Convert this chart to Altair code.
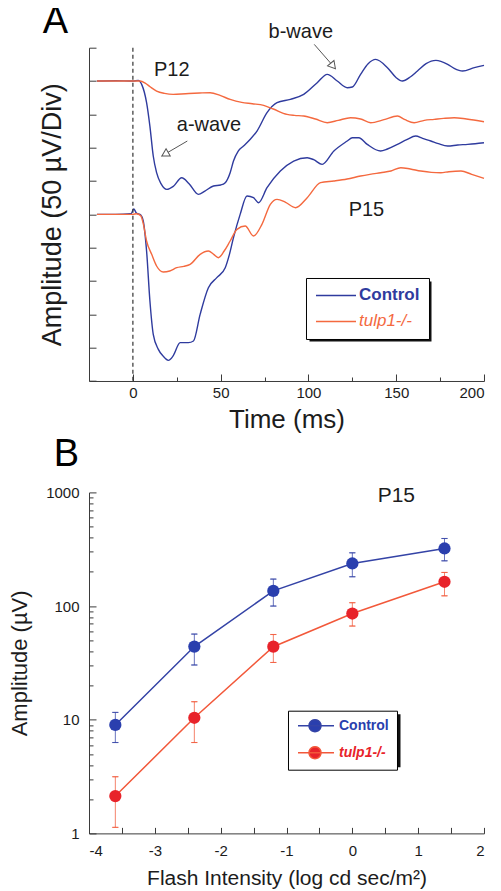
import math
import altair as alt
import pandas as pd

FONT = "Liberation Sans, Arial, Helvetica, sans-serif"
TEXT = "#1c1c1c"
AX = "#3a3a3a"

GROUPS = ["Control", "tulp1-/-"]

# ---------------- Panel A : ERG traces (µV, baselines offset) ----------------
p12_control_t = [-20.5, -10, 0, 3, 5, 7.8, 9.7, 11.6, 13.5, 16, 19.3, 23, 27.8, 32, 37.3, 41, 45.9, 50, 52.6,
                 55.4, 57.3, 60, 63, 67, 70.7, 76.4, 82.1, 89.7, 97.3, 105, 110.7, 116.4, 122.1, 125, 129.7,
                 134, 138.3, 145, 150, 153.5, 158, 162.1, 167, 172.6, 179.3, 183, 187.8, 194.5, 200]
p12_control_v = [450, 450.5, 450, 451, 445, 417.5, 382, 337.5, 312.5, 296, 287.5, 292, 305, 296, 280, 285, 292.5,
                 294, 297.5, 312.5, 330, 345, 352.5, 363, 375, 402.5, 417.5, 422.5, 430, 447.5, 460, 450, 440, 441,
                 460, 476, 482.5, 470, 455, 450, 456, 465, 476, 481, 475, 469, 465, 470, 473.5]

p12_tulp_t = [-20.5, 0, 4, 7, 10, 13.5, 18, 23, 30, 38, 44, 50, 55.4, 62, 68, 74.5, 80, 87.8, 92, 97.3, 104,
              110.7, 117, 124, 129.7, 135.4, 143, 150.7, 155, 160.2, 166, 171.6, 177, 183, 190, 200]
p12_tulp_v = [450, 450, 450, 447, 441, 435, 431.5, 430, 431, 432, 432.5, 428, 422.5, 418, 416, 413.5, 408, 400,
              398.5, 397.5, 393, 387.5, 391, 395, 393, 387.5, 392, 397.5, 392, 387.5, 391, 392.5, 394, 395, 393, 389]

p15_control_t = [-20.5, -10, -1, 0.5, 2, 4.5, 5.9, 7.8, 9.7, 11.6, 14.5, 17, 20.2, 23, 26.9, 31.6, 34.5, 38.3,
                 43, 47.8, 52.6, 55, 57.3, 61.1, 65, 68.7, 71.6, 76.4, 84, 91.6, 99.3, 103, 107.8, 114.5, 122.1,
                 125, 128.7, 133.5, 141.1, 145, 150.7, 156, 161.1, 165, 169.7, 174, 179.3, 185, 190.7, 195, 200]
p15_control_v = [250, 250, 251, 258, 252, 249, 240, 195, 120, 70, 47.5, 38, 31, 38, 57.5, 57.5, 60, 100, 140, 155,
                 170, 190, 215, 250, 277.5, 275, 267.5, 290, 315, 330, 335, 332, 325, 345, 360, 365, 365, 355, 345,
                 348, 355, 362, 367.5, 364, 360, 356, 352.5, 354, 355, 356, 357.5]

p15_tulp_t = [-20.5, 0, 2, 4.5, 6, 7.8, 10.7, 13.5, 17.3, 21, 25, 29, 32.6, 38.3, 43, 46, 48.7, 52, 55.4, 59.3,
              64, 68.7, 73.5, 78.3, 82.1, 87, 92.6, 99.3, 106.9, 114.5, 122, 129.7, 135, 141.1, 147, 152.6, 158,
              164, 170, 175.4, 180, 186.9, 193, 200]
p15_tulp_v = [250, 250, 251, 248, 235, 210, 190, 172.5, 163.5, 165, 170, 172, 175, 190, 195, 190, 185, 195, 210,
              227.5, 232.5, 217.5, 235, 265, 272.5, 268, 260, 275, 297.5, 300, 303, 307.5, 310, 312.5, 315, 320,
              318, 315, 313, 312.5, 314, 315, 310, 304]

flash_onset = [0]

a_labels = ["P12", "P15", "a-wave", "b-wave"]
a_label_t = [12, 122.9, 25, 77.3]
a_label_v = [457.5, 247.5, 375, 515]

arrow_a_t = [31.0, 16.4]
arrow_a_v = [360, 337.5]
arrow_b_t = [103.3, 115.4]
arrow_b_v = [505, 468.5]
head_a = (18.9, 341)
head_b = (113.6, 474)

# ---------------- Panel B : intensity-response ----------------
intensity = [-3.6, -2.4, -1.2, 0, 1.4]
control_amp = [9.0, 44, 136, 237, 321]
control_lo = [6.3, 30.3, 100, 181, 250]
control_hi = [11.6, 56.7, 172.7, 294, 393]
tulp_amp = [2.13, 10.4, 43.9, 86, 163.6]
tulp_lo = [1.13, 6.3, 31.9, 66.7, 123]
tulp_hi = [3.15, 14.4, 56.2, 107, 197.6]

# ---------------- tables ----------------
rows = []
for age, grp, ts, vs in [("P12", "Control", p12_control_t, p12_control_v),
                         ("P12", "tulp1-/-", p12_tulp_t, p12_tulp_v),
                         ("P15", "Control", p15_control_t, p15_control_v),
                         ("P15", "tulp1-/-", p15_tulp_t, p15_tulp_v)]:
    for t, v in zip(ts, vs):
        rows.append({"t": t, "v": v, "group": grp, "series": age + grp})
df_a = pd.DataFrame(rows)

grp_b = ["Control"] * 5 + ["tulp1-/-"] * 5
df_b = pd.DataFrame({
    "x": intensity * 2,
    "amp": control_amp + tulp_amp,
    "lo": control_lo + tulp_lo,
    "hi": control_hi + tulp_hi,
    "genotype": grp_b,
    "line_group": grp_b,
})
df_caps = pd.concat([
    df_b[["x", "line_group"]].assign(e=df_b["lo"]),
    df_b[["x", "line_group"]].assign(e=df_b["hi"]),
])

W = 395
HA = 333.3
HB = 341

COND = "datum.value === 'Control'"


def by_group(a, b):
    return alt.ExprRef(expr=f"{COND} ? '{a}' : '{b}'")


# ---------------- Panel A chart ----------------
xsA = alt.Scale(domain=[-25, 200], nice=False, zero=False)
ysA = alt.Scale(domain=[0, 500], nice=False, zero=False)

blueA, orangeA = "#2f3b9e", "#f4693f"

LEG_A_X, LEG_A_Y, LEG_A_W, LEG_A_H = 217, 230.3, 122, 60
legend_a = alt.Legend(title=None, orient="none", legendX=LEG_A_X, legendY=LEG_A_Y, direction="vertical",
                      padding=9, rowPadding=8, strokeColor="#000", fillColor="white",
                      symbolType="M-1.875,0H8.125", symbolSize=64, symbolStrokeWidth=1.5,
                      labelFontSize=17, labelOffset=27, labelFont=FONT,
                      labelColor=by_group(blueA, orangeA),
                      labelFontStyle=by_group("normal", "italic"),
                      labelFontWeight=by_group("bold", "normal"))

x_axis_a = alt.Axis(orient="bottom", values=[0, 50, 100, 150, 200], ticks=False, tickSize=0,
                    domainColor=AX, domainWidth=1, labelFontSize=15, labelPadding=5, labelColor=TEXT,
                    grid=False, title="Time (ms)", titleFontSize=26, titleFontWeight="normal",
                    titleColor=TEXT, titleBaseline="alphabetic", titleY=46.5)
y_axis_a = alt.Axis(orient="left", ticks=False, tickSize=0, labels=False, domainColor=AX, domainWidth=1,
                    grid=False, title="Amplitude (50 µV/Div)", titleFontSize=27, titleFontWeight="normal",
                    titleColor=TEXT, titleBaseline="alphabetic", titleX=-28.7, titleY=HA / 2)
x_ticks_a = alt.Axis(orient="top", offset=-HA, values=list(range(0, 201, 25)), labels=False, domain=False,
                     tickColor=AX, tickWidth=1, grid=False, title=None,
                     tickSize={"condition": {"test": "datum.value % 50 === 0", "value": 7}, "value": 4})
y_ticks_a = alt.Axis(orient="right", offset=-W, values=list(range(0, 501, 50)), labels=False, domain=False,
                     tickColor=AX, tickWidth=1, tickSize=7, grid=False, title=None)

traces = alt.Chart(df_a).mark_line(strokeWidth=1.4, interpolate="monotone").encode(
    x=alt.X("t:Q", scale=xsA, axis=x_axis_a),
    y=alt.Y("v:Q", scale=ysA, axis=y_axis_a),
    color=alt.Color("group:N", scale=alt.Scale(domain=GROUPS, range=[blueA, orangeA]), legend=legend_a),
    detail="series:N",
)

onset = alt.Chart(pd.DataFrame({"t": flash_onset})).mark_rule(
    strokeDash=[4, 3], color="#333", strokeWidth=1.2).encode(
    x=alt.X("t:Q", scale=xsA, axis=None))

ann_a = alt.Chart(pd.DataFrame({"t": a_label_t, "v": a_label_v, "lab": a_labels})).mark_text(
    align="left", baseline="alphabetic", fontSize=20, color=TEXT).encode(
    x=alt.X("t:Q", scale=xsA, axis=x_ticks_a),
    y=alt.Y("v:Q", scale=ysA, axis=y_ticks_a),
    text="lab:N")

panel_a_lab = alt.Chart(pd.DataFrame({"t": [-51.4], "v": [522.4], "lab": ["A"]})).mark_text(
    align="left", baseline="alphabetic", fontSize=38, color="#000").encode(
    x=alt.X("t:Q", scale=xsA, axis=None), y=alt.Y("v:Q", scale=ysA, axis=None), text="lab:N")

arrows_df = pd.DataFrame({"t": arrow_a_t + arrow_b_t, "v": arrow_a_v + arrow_b_v,
                          "arrow": ["a", "a", "b", "b"]})
arrow_lines = alt.Chart(arrows_df).mark_line(color="#555", strokeWidth=1).encode(
    x=alt.X("t:Q", scale=xsA, axis=None), y=alt.Y("v:Q", scale=ysA, axis=None), detail="arrow:N")
head_a_m = alt.Chart(pd.DataFrame({"t": [head_a[0]], "v": [head_a[1]]})).mark_point(
    shape="triangle", filled=True, fill="white", stroke="#555", strokeWidth=1, size=70, opacity=1,
    angle=240).encode(x=alt.X("t:Q", scale=xsA, axis=None), y=alt.Y("v:Q", scale=ysA, axis=None))
head_b_m = alt.Chart(pd.DataFrame({"t": [head_b[0]], "v": [head_b[1]]})).mark_point(
    shape="triangle", filled=True, fill="white", stroke="#555", strokeWidth=1, size=70, opacity=1,
    angle=140).encode(x=alt.X("t:Q", scale=xsA, axis=None), y=alt.Y("v:Q", scale=ysA, axis=None))

SH = 3.5
shadow_a = alt.Chart(pd.DataFrame({"k": [0]})).mark_rect(color="#111").encode(
    x=alt.value(LEG_A_X + SH), x2=alt.value(LEG_A_X + LEG_A_W + SH),
    y=alt.value(LEG_A_Y + SH), y2=alt.value(LEG_A_Y + LEG_A_H + SH))

panel_a = alt.layer(shadow_a, traces, onset, arrow_lines, head_a_m, head_b_m, ann_a, panel_a_lab).resolve_axis(
    x="independent", y="independent").properties(width=W, height=HA)

# ---------------- Panel B chart ----------------
xsB = alt.Scale(domain=[-4, 2], nice=False, zero=False)
ysB = alt.Scale(type="log", domain=[1, 1000], nice=False)

blueB_pt, redB_pt = "#2a3fae", "#e8232a"
blueB_ln, redB_ln = "#3443a6", "#f2583a"

# legend glyph: short line with a dot (polygonal circle, symbol units)
dot = "".join(("M" if i == 0 else "L") + f"{3 + 1.5 * math.cos(2 * math.pi * i / 20):.3f},"
              f"{1.5 * math.sin(2 * math.pi * i / 20):.3f}" for i in range(20)) + "Z"
path_b = "M-1.25,0L7.75,0" + dot

LEG_B_X, LEG_B_Y, LEG_B_W, LEG_B_H = 199, 218.3, 109, 53
legend_b = alt.Legend(title=None, orient="none", legendX=LEG_B_X, legendY=LEG_B_Y, direction="vertical",
                      padding=8, rowPadding=9, strokeColor="#000", fillColor="white",
                      symbolType=path_b, symbolSize=64, symbolStrokeWidth=1.5,
                      symbolStrokeColor=by_group(blueB_ln, redB_ln),
                      labelFontSize=14, labelOffset=29, labelFont=FONT,
                      labelColor=by_group(blueB_pt, redB_pt),
                      labelFontStyle=by_group("normal", "italic"),
                      labelFontWeight="bold")

x_axis_b = alt.Axis(orient="bottom", values=[-4, -3, -2, -1, 0, 1, 2], ticks=False, tickSize=0,
                    labelExpr="toString(datum.value)", domainColor=AX, domainWidth=1, labelFontSize=15,
                    labelPadding=10, labelColor=TEXT, grid=False,
                    title="Flash Intensity (log cd sec/m²)", titleFontSize=21, titleFontWeight="normal",
                    titleColor=TEXT, titleBaseline="alphabetic", titleY=51.5)
y_axis_b = alt.Axis(orient="left", values=[1, 10, 100, 1000], format="d", ticks=False, tickSize=0,
                    domainColor=AX, domainWidth=1, labelFontSize=15, labelPadding=10, labelColor=TEXT,
                    grid=False, title="Amplitude (µV)", titleFontSize=22, titleFontWeight="normal",
                    titleColor=TEXT, titleBaseline="alphabetic", titleX=-63, titleY=HB / 2)
log_ticks = [m * 10 ** e for e in range(3) for m in range(1, 10)] + [1000]
x_ticks_b = alt.Axis(orient="top", offset=-HB, values=[-4 + 0.5 * i for i in range(13)], labels=False,
                     domain=False, tickColor=AX, tickWidth=1, tickSize=6, grid=False, title=None)
y_ticks_b = alt.Axis(orient="right", offset=-W, values=log_ticks, labels=False, domain=False,
                     tickColor=AX, tickWidth=1, grid=False, title=None,
                     tickSize={"condition": {"test": "indexof([1, 10, 100, 1000], datum.value) >= 0",
                                             "value": 7}, "value": 4})

line_stroke = alt.Stroke("line_group:N", scale=alt.Scale(range=[blueB_ln, redB_ln]), legend=None)
errbars = alt.Chart(df_b).mark_rule(strokeWidth=1, opacity=0.75).encode(
    x=alt.X("x:Q", scale=xsB, axis=None), y=alt.Y("lo:Q", scale=ysB, axis=None), y2="hi:Q", stroke=line_stroke)
caps = alt.Chart(df_caps).mark_tick(orient="horizontal", size=6, thickness=0.1, filled=False,
                                    strokeWidth=1, opacity=0.75).encode(
    x=alt.X("x:Q", scale=xsB, axis=None), y=alt.Y("e:Q", scale=ysB, axis=None), stroke=line_stroke)
lines_b = alt.Chart(df_b).mark_line(strokeWidth=1.5).encode(
    x=alt.X("x:Q", scale=xsB, axis=x_axis_b),
    y=alt.Y("amp:Q", scale=ysB, axis=y_axis_b),
    stroke=line_stroke)
points_b = alt.Chart(df_b).mark_point(filled=True, size=150, opacity=1).encode(
    x=alt.X("x:Q", scale=xsB, axis=x_ticks_b),
    y=alt.Y("amp:Q", scale=ysB, axis=y_ticks_b),
    color=alt.Color("genotype:N", scale=alt.Scale(range=[blueB_pt, redB_pt]), legend=legend_b))

ann_b = alt.Chart(pd.DataFrame({"x": [0.385], "y": [826], "lab": ["P15"]})).mark_text(
    align="left", baseline="alphabetic", fontSize=21, color=TEXT).encode(
    x=alt.X("x:Q", scale=xsB, axis=None), y=alt.Y("y:Q", scale=ysB, axis=None), text="lab:N")
panel_b_lab = alt.Chart(pd.DataFrame({"x": [-4.536], "y": [1703], "lab": ["B"]})).mark_text(
    align="left", baseline="alphabetic", fontSize=38, color="#000").encode(
    x=alt.X("x:Q", scale=xsB, axis=None), y=alt.Y("y:Q", scale=ysB, axis=None), text="lab:N")

shadow_b = alt.Chart(pd.DataFrame({"k": [0]})).mark_rect(color="#111").encode(
    x=alt.value(LEG_B_X + SH), x2=alt.value(LEG_B_X + LEG_B_W + SH),
    y=alt.value(LEG_B_Y + SH), y2=alt.value(LEG_B_Y + LEG_B_H + SH))

panel_b = alt.layer(shadow_b, errbars, caps, lines_b, points_b, ann_b, panel_b_lab).resolve_axis(
    x="independent", y="independent").properties(width=W, height=HB)

chart = alt.vconcat(panel_a, panel_b, spacing=110.7, bounds="flush").resolve_scale(
    color="independent", stroke="independent").resolve_legend(color="independent").properties(
    padding={"top": -5.3, "left": 0, "right": 0, "bottom": 0}, background="white").configure(
    font=FONT).configure_view(stroke=None).configure_axis(labelFont=FONT, titleFont=FONT)

chart.save("out.html", embed_options={"renderer": "svg", "actions": False})
